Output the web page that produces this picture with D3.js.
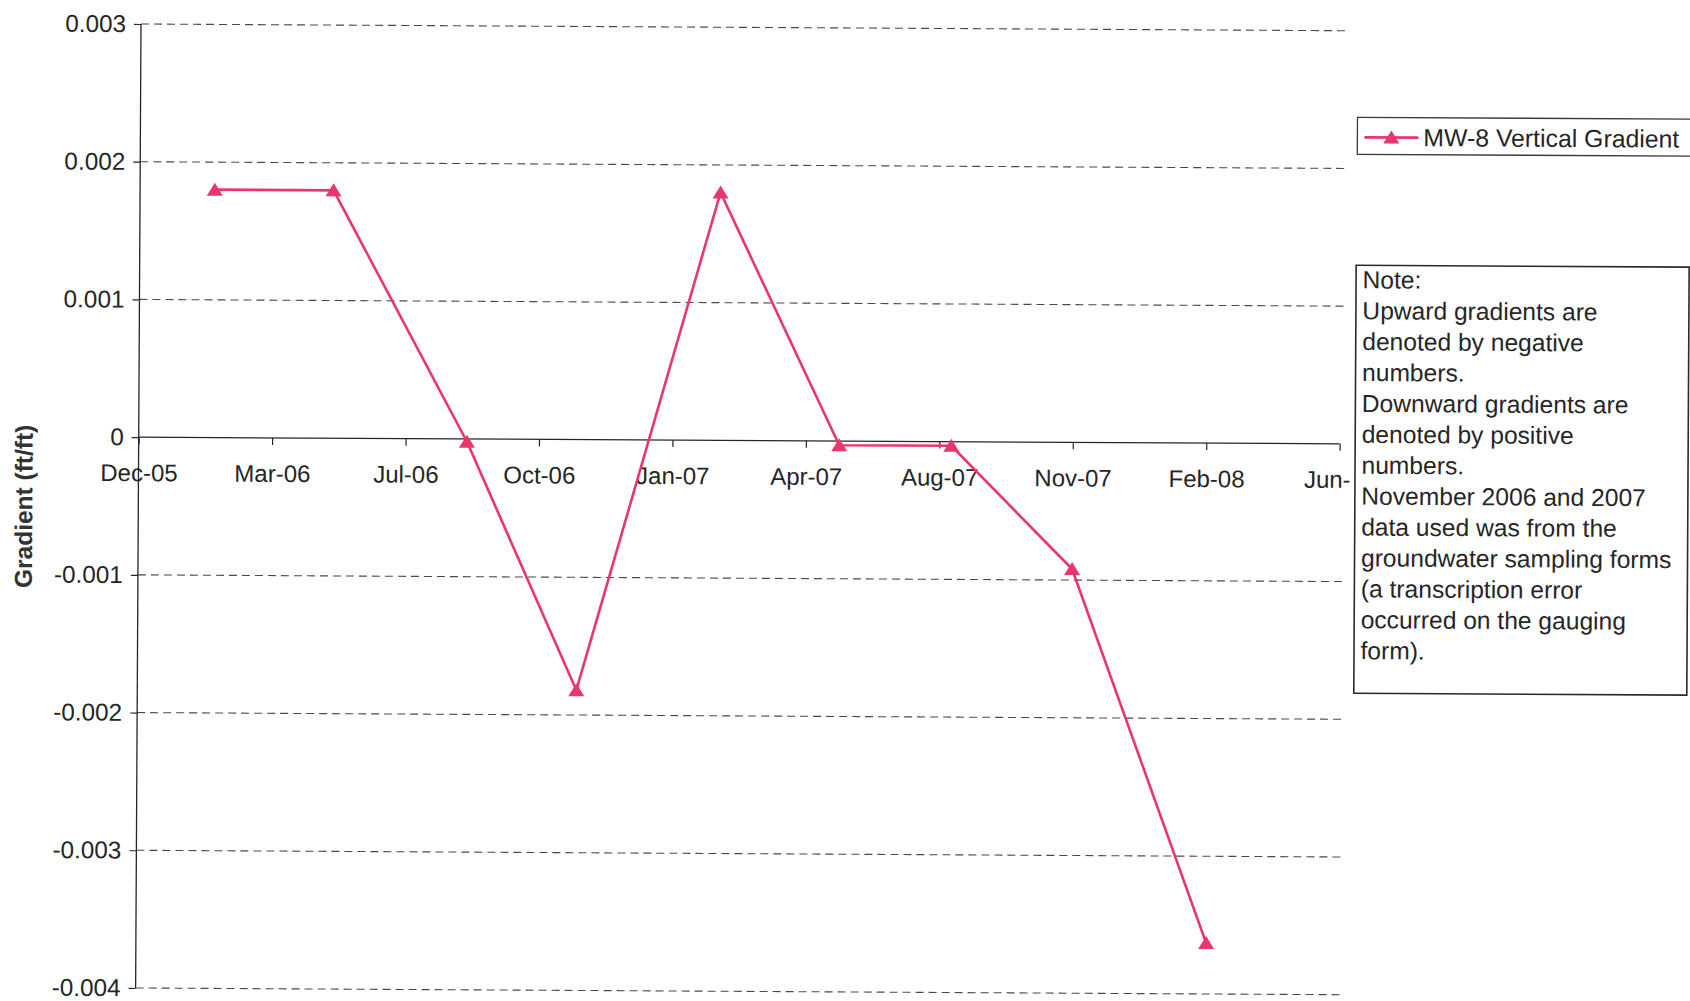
<!DOCTYPE html>
<html>
<head>
<meta charset="utf-8">
<script src="https://cdn.jsdelivr.net/npm/d3@7"></script>
<style>
  html, body { margin: 0; padding: 0; background: #fff; }
  svg { display: block; font-family: "Liberation Sans", Arial, sans-serif; }
</style>
</head>
<body>
<svg id="chart" width="1690" height="1001"></svg>
<script>
// Sampling dates and MW-8 vertical gradient (ft/ft)
const sampleDates = ["2006-02-08", "2006-05-08", "2006-08-17", "2006-11-08", "2007-02-22",
                     "2007-05-23", "2007-08-15", "2007-11-14", "2008-02-24"];
const gradientValues = [0.0018, 0.0018, -0.00002, -0.00182, 0.0018,
                        -0.00003, -0.00003, -0.00092, -0.00363];

// Date-axis ticks every 100 days, and their labels
const tickDates = ["2005-12-14", "2006-03-24", "2006-07-02", "2006-10-10", "2007-01-18",
                   "2007-04-28", "2007-08-06", "2007-11-14", "2008-02-22", "2008-06-01"];
const tickLabels = ["Dec-05", "Mar-06", "Jul-06", "Oct-06", "Jan-07",
                    "Apr-07", "Aug-07", "Nov-07", "Feb-08", "Jun-"];
const yTicks = [0.003, 0.002, 0.001, 0, -0.001, -0.002, -0.003, -0.004];
const yTickLabels = ["0.003", "0.002", "0.001", "0", "-0.001", "-0.002", "-0.003", "-0.004"];

const seriesName = "MW-8 Vertical Gradient";
const noteLines = ["Note:", "Upward gradients are", "denoted by negative", "numbers.",
  "Downward gradients are", "denoted by positive", "numbers.", "November 2006 and 2007",
  "data used was from the", "groundwater sampling forms", "(a transcription error",
  "occurred on the gauging", "form)."];

const parse = d3.utcParse("%Y-%m-%d");
const data = sampleDates.map((d, i) => ({ date: parse(d), value: gradientValues[i] }));
const ticks = tickDates.map(parse);

const plotLeft = 141, plotRight = 1342, plotTop = 24, plotBottom = 988;
const lineColor = "#e8376b";
const inkColor = "#262626";
const fontStack = "Liberation Sans, Arial, sans-serif";

const x = d3.scaleUtc().domain([ticks[0], ticks[ticks.length - 1]]).range([plotLeft, plotRight]);
const y = d3.scaleLinear().domain([-0.004, 0.003]).range([plotBottom, plotTop]);

const svg = d3.select("#chart");
// whole page sits very slightly tilted
const g = svg.append("g").attr("transform", `rotate(0.32 ${plotLeft} ${plotTop})`);

// dashed horizontal gridlines
g.append("g").selectAll("line").data(yTicks.filter(v => v !== 0)).join("line")
  .attr("x1", plotLeft).attr("x2", plotRight + 4)
  .attr("y1", d => y(d)).attr("y2", d => y(d))
  .attr("stroke", "#4a4a4a").attr("stroke-width", 1.1)
  .attr("stroke-dasharray", "8,5");

// y axis
const yAxis = d3.axisLeft(y).tickValues(yTicks).tickSize(7).tickPadding(8)
  .tickFormat((d, i) => yTickLabels[i]);
const yg = g.append("g").attr("transform", `translate(${plotLeft},0)`).call(yAxis);
yg.select(".domain").attr("stroke", inkColor).attr("stroke-width", 1.3)
  .attr("d", `M0,${y(0.003)}V${y(-0.004)}`);
yg.selectAll(".tick line").attr("stroke", inkColor).attr("stroke-width", 1.2);
yg.selectAll(".tick text").attr("fill", inkColor).attr("font-size", 24.3)
  .attr("font-family", fontStack);

// x axis along zero
const xAxis = d3.axisBottom(x).tickValues(ticks).tickSize(7).tickPadding(20)
  .tickFormat((d, i) => tickLabels[i]);
const xg = g.append("g").attr("transform", `translate(0,${y(0)})`).call(xAxis);
xg.select(".domain").attr("stroke", inkColor).attr("stroke-width", 1.2)
  .attr("d", `M${plotLeft},0H${plotRight}`);
xg.selectAll(".tick line").attr("stroke", inkColor).attr("stroke-width", 1.2);
xg.selectAll(".tick text").attr("fill", inkColor).attr("font-size", 24)
  .attr("font-family", fontStack);
// the last month label runs into the note box, so only its start shows
xg.selectAll(".tick text").filter((d, i) => i === ticks.length - 1)
  .attr("text-anchor", "start").attr("dx", -36);

// y axis title
g.append("text")
  .attr("transform", `translate(35,507) rotate(-90)`)
  .attr("text-anchor", "middle").attr("font-size", 24.5).attr("font-weight", "bold")
  .attr("font-family", fontStack)
  .attr("fill", "#333").text("Gradient (ft/ft)");

// series line
const line = d3.line().x(d => x(d.date)).y(d => y(d.value));
g.append("path").datum(data).attr("d", line)
  .attr("fill", "none").attr("stroke", lineColor).attr("stroke-width", 2.6)
  .attr("stroke-linejoin", "miter");

// triangle markers
const tri = "M0,-7L8,6L-8,6Z";
g.append("g").selectAll("path").data(data).join("path")
  .attr("transform", d => `translate(${x(d.date)},${y(d.value)})`)
  .attr("d", tri).attr("fill", lineColor);

// legend
const lg = g.append("g");
lg.append("rect").attr("x", 1358).attr("y", 110.5).attr("width", 334).attr("height", 37)
  .attr("fill", "#fff").attr("stroke", "#3a3a3a").attr("stroke-width", 1.3);
lg.append("line").attr("x1", 1365).attr("x2", 1419).attr("y1", 130.5).attr("y2", 130.5)
  .attr("stroke", lineColor).attr("stroke-width", 2.6);
lg.append("path").attr("transform", "translate(1392,130.5)").attr("d", tri).attr("fill", lineColor);
lg.append("text").attr("x", 1424).attr("y", 139).attr("font-size", 24.8)
  .attr("font-family", fontStack)
  .attr("fill", inkColor).text(seriesName);

// note box
const ng = g.append("g");
ng.append("rect").attr("x", 1357.5).attr("y", 258.5).attr("width", 333).attr("height", 428)
  .attr("fill", "#fff").attr("stroke", "#2a2a2a").attr("stroke-width", 1.6);
ng.append("text").attr("font-size", 24.6).attr("fill", inkColor)
  .attr("font-family", fontStack)
  .selectAll("tspan").data(noteLines).join("tspan")
  .attr("x", 1364).attr("y", (d, i) => 281.5 + i * 30.9).text(d => d);
</script>
</body>
</html>
